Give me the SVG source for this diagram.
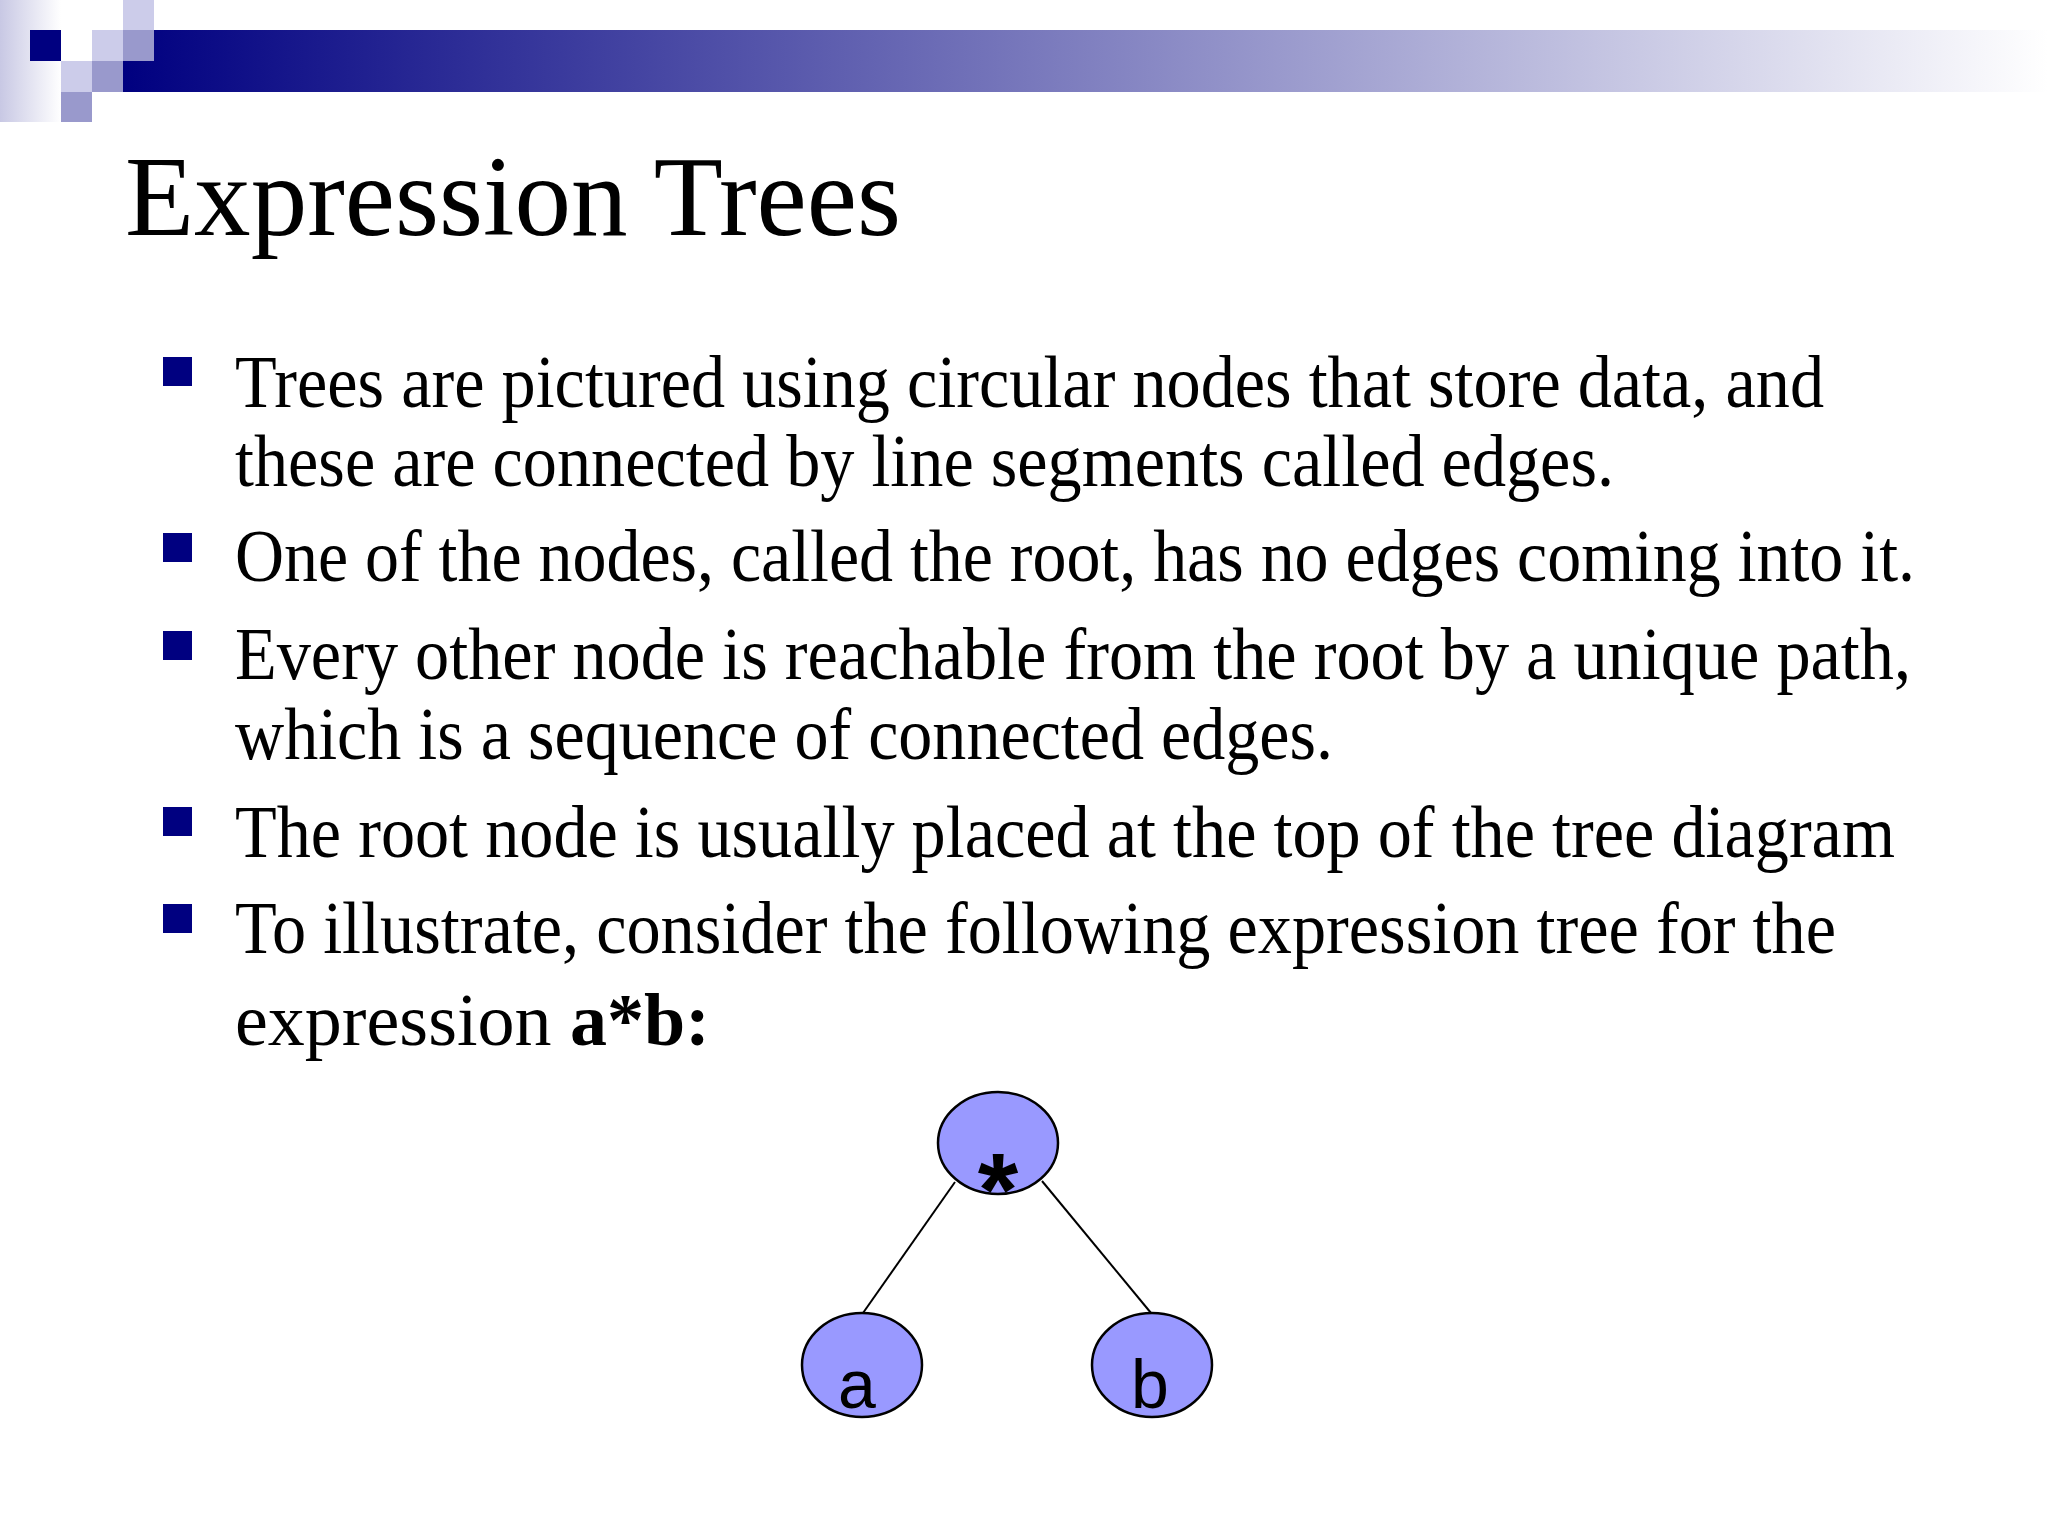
<svg xmlns="http://www.w3.org/2000/svg" width="2048" height="1536" viewBox="0 0 2048 1536">
<defs>
<linearGradient id="bar" x1="0" x2="1" y1="0" y2="0"><stop offset="0" stop-color="#000080"/><stop offset="1" stop-color="#ffffff"/></linearGradient>
<linearGradient id="side" x1="0" x2="1" y1="0" y2="0"><stop offset="0" stop-color="#c8c8e4"/><stop offset="1" stop-color="#ffffff"/></linearGradient>
<style>
.t{font-family:"Liberation Serif","Times New Roman",serif;fill:#000}
.b{fill:#000080}
.n{fill:#9999ff;stroke:#000;stroke-width:2.5}
.l{font-family:"Liberation Sans",Arial,sans-serif;font-size:68px;text-anchor:middle;fill:#000}
.e{stroke:#000;stroke-width:2}
</style>
</defs>
<rect width="2048" height="1536" fill="#fff"/>
<rect x="0" y="0" width="61" height="122" fill="url(#side)"/>
<rect x="123" y="30" width="1925" height="62" fill="url(#bar)"/>
<rect x="30" y="30" width="31" height="31" fill="#000080"/>
<rect x="61" y="30" width="31" height="31" fill="#fff"/>
<rect x="123" y="0" width="31" height="30" fill="#ccccea"/>
<rect x="92" y="30" width="31" height="31" fill="#ccccea"/>
<rect x="123" y="30" width="31" height="31" fill="#9999cc"/>
<rect x="61" y="61" width="31" height="31" fill="#ccccea"/>
<rect x="92" y="61" width="31" height="31" fill="#9999cc"/>
<rect x="61" y="92" width="31" height="30" fill="#9999cc"/>
<text class="t" x="125" y="235" font-size="114" textLength="776" lengthAdjust="spacingAndGlyphs">Expression Trees</text>
<g class="b">
<rect x="163" y="357" width="29" height="29"/>
<rect x="163" y="533" width="29" height="29"/>
<rect x="163" y="631" width="29" height="29"/>
<rect x="163" y="807" width="29" height="29"/>
<rect x="163" y="904" width="29" height="29"/>
</g>
<g class="t" font-size="74">
<text x="235" y="407" textLength="1589" lengthAdjust="spacingAndGlyphs">Trees are pictured using circular nodes that store data, and</text>
<text x="235" y="486" textLength="1379" lengthAdjust="spacingAndGlyphs">these are connected by line segments called edges.</text>
<text x="235" y="581" textLength="1680" lengthAdjust="spacingAndGlyphs">One of the nodes, called the root, has no edges coming into it.</text>
<text x="235" y="679" textLength="1676" lengthAdjust="spacingAndGlyphs">Every other node is reachable from the root by a unique path,</text>
<text x="235" y="759" textLength="1098" lengthAdjust="spacingAndGlyphs">which is a sequence of connected edges.</text>
<text x="235" y="857" textLength="1660" lengthAdjust="spacingAndGlyphs">The root node is usually placed at the top of the tree diagram</text>
<text x="235" y="953" textLength="1601" lengthAdjust="spacingAndGlyphs">To illustrate, consider the following expression tree for the</text>
<text x="235" y="1045">expression <tspan font-weight="bold">a*b:</tspan></text>
</g>
<g id="edges">
<line class="e" x1="955" y1="1182" x2="863" y2="1313"/>
<line class="e" x1="1042" y1="1181" x2="1151" y2="1313"/>
</g>
<g id="root"><ellipse class="n" cx="998" cy="1143" rx="60" ry="51"/><text class="l" x="998" y="1226" style="font-size:104px;font-weight:bold">*</text></g>
<g id="a"><ellipse class="n" cx="862" cy="1365" rx="60" ry="52"/><text class="l" x="857" y="1408">a</text></g>
<g id="b"><ellipse class="n" cx="1152" cy="1365" rx="60" ry="52"/><text class="l" x="1150" y="1408">b</text></g>
</svg>
